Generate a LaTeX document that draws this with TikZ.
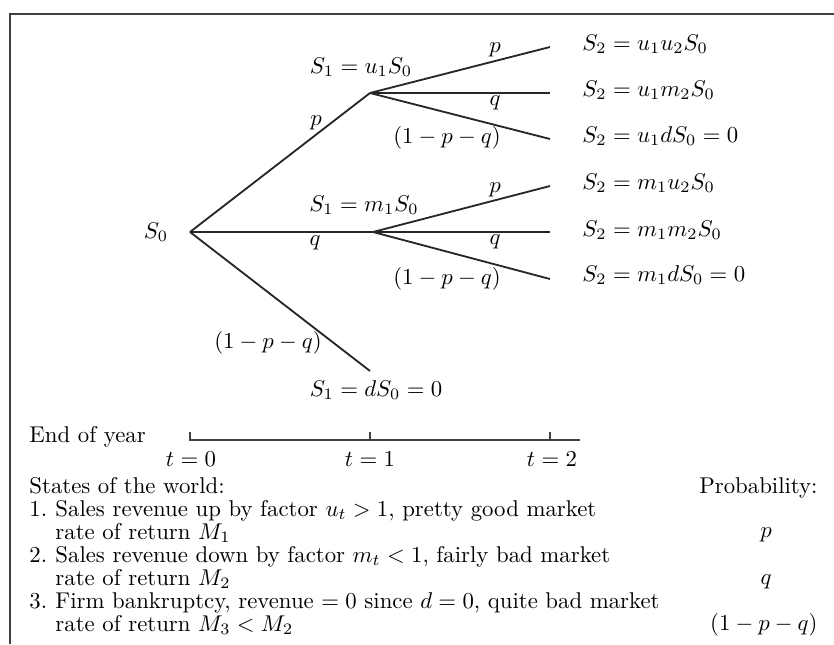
\documentclass[tikz,border=0pt]{standalone}
\begin{document}
\begin{tikzpicture}[x=0.4386pt,y=-0.4386pt,
  branch/.style={line width=0.8pt, draw=black!85},
  framel/.style={line width=0.9pt, draw=black!75},
  lbl/.style={inner sep=0pt, anchor=center},
  rlbl/.style={inner sep=0pt, anchor=west},
  txt/.style={inner sep=0pt, anchor=base west},
  tick/.style={line width=0.9pt, draw=black!75}]
\useasboundingbox (0,0) rectangle (834,644);
% frame
\draw[framel] (10,644) -- (10,14) -- (834,14);
% branch points
\coordinate (r) at (190,232);
\coordinate (a) at (370,93);
\coordinate (b) at (373,232);
\coordinate (c) at (370,371);
\coordinate (a1) at (550,47);
\coordinate (a2) at (550,93);
\coordinate (a3) at (550,139);
\coordinate (b1) at (550,186);
\coordinate (b2) at (550,232);
\coordinate (b3) at (550,279);
% connectors
\draw[branch] (r) -- (a);
\draw[branch] (r) -- (b);
\draw[branch] (r) -- (c);
\draw[branch] (a) -- (a1);
\draw[branch] (a) -- (a2);
\draw[branch] (a) -- (a3);
\draw[branch] (b) -- (b1);
\draw[branch] (b) -- (b2);
\draw[branch] (b) -- (b3);
% node labels
\node[lbl] (s0) at (156,232) {$S_0$};
\node[lbl] (s1u) at (361,67) {$S_1=u_1S_0$};
\node[lbl] (s1m) at (364,205) {$S_1=m_1S_0$};
\node[lbl] (s1d) at (376,390) {$S_1=dS_0=0$};
\node[rlbl] (s2a) at (582,44) {$S_2=u_1u_2S_0$};
\node[rlbl] (s2b) at (582,90) {$S_2=u_1m_2S_0$};
\node[rlbl] (s2c) at (582,136) {$S_2=u_1dS_0=0$};
\node[rlbl] (s2d) at (582,183) {$S_2=m_1u_2S_0$};
\node[rlbl] (s2e) at (582,230) {$S_2=m_1m_2S_0$};
\node[rlbl] (s2f) at (582,275) {$S_2=m_1dS_0=0$};
% probability labels on branches
\node[lbl] (pa) at (316,123) {$p$};
\node[lbl] (qa) at (315,243) {$q$};
\node[lbl] (ra) at (268,343) {$(1-p-q)$};
\node[lbl] (pb) at (495,50) {$p$};
\node[lbl] (qb) at (495,103) {$q$};
\node[lbl] (rb) at (447,138) {$(1-p-q)$};
\node[lbl] (pc) at (495,190) {$p$};
\node[lbl] (qc) at (495,242) {$q$};
\node[lbl] (rc) at (447,279) {$(1-p-q)$};
% timeline
\node[txt] (eoy) at (29,442) {End of year};
\coordinate (t0) at (190,440);
\coordinate (t0u) at (190,432);
\coordinate (t1) at (370,440);
\coordinate (t1u) at (370,432);
\coordinate (t2) at (550,440);
\coordinate (t2u) at (550,432);
\coordinate (tend) at (580,440);
\draw[tick] (t0u) -- (t0) -- (tend);
\draw[tick] (t1u) -- (t1);
\draw[tick] (t2u) -- (t2);
\node[lbl] (lt0) at (191,459) {$t=0$};
\node[lbl] (lt1) at (370,459) {$t=1$};
\node[lbl] (lt2) at (552,459) {$t=2$};
% states of the world
\node[txt] (sw) at (29,493) {States of the world:};
\node[txt] (n1) at (29,516) {1.};
\node[txt] (l1) at (55,516) {Sales revenue up by factor $u_t>1$, pretty good market};
\node[txt] (l1b) at (55,539) {rate of return $M_1$};
\node[txt] (n2) at (29,562) {2.};
\node[txt] (l2) at (55,562) {Sales revenue down by factor $m_t<1$, fairly bad market};
\node[txt] (l2b) at (55,585) {rate of return $M_2$};
\node[txt] (n3) at (29,608) {3.};
\node[txt] (l3) at (55,608) {Firm bankruptcy, revenue $=0$ since $d=0$, quite bad market};
\node[txt] (l3b) at (55,631) {rate of return $M_3<M_2$};
\node[inner sep=0pt, anchor=base east] (prob) at (818,493) {Probability:};
\node[lbl] (pp) at (766,535) {$p$};
\node[lbl] (pq) at (766,582) {$q$};
\node[inner sep=0pt, anchor=base east] (pr) at (818,630) {$(1-p-q)$};
\end{tikzpicture}
\end{document}
